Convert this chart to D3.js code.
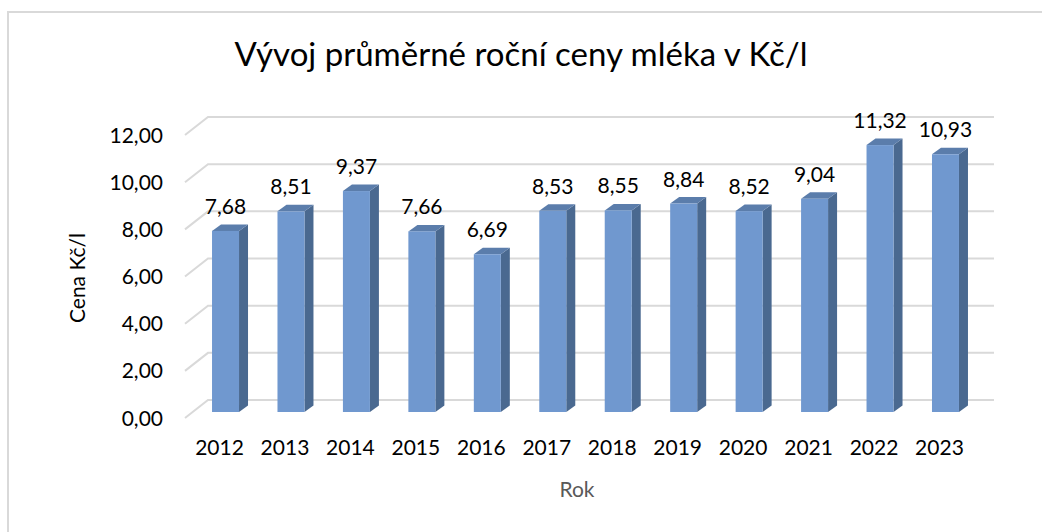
<!DOCTYPE html>
<html lang="cs">
<head>
<meta charset="UTF-8">
<title>Vývoj průměrné roční ceny mléka</title>
<script src="https://d3js.org/d3.v7.min.js"></script>
<style>
  html, body { margin: 0; padding: 0; background: #fff; }
  svg { display: block; font-family: Lato, "Open Sans", sans-serif; }
</style>
</head>
<body>
<svg id="chart" width="1042" height="532"></svg>
<script>
const years = ["2012", "2013", "2014", "2015", "2016", "2017", "2018", "2019", "2020", "2021", "2022", "2023"];
const prices = [7.68, 8.51, 9.37, 7.66, 6.69, 8.53, 8.55, 8.84, 8.52, 9.04, 11.32, 10.93];
const yTicks = [0, 2, 4, 6, 8, 10, 12];

const titleText = "Vývoj průměrné roční ceny mléka v Kč/l";
const yTitle = "Cena Kč/l";
const xTitle = "Rok";

const svg = d3.select("#chart");
const fmt = v => d3.format(".2f")(v).replace(".", ",");

// 3D offsets
const depth = { dx: 9, dy: -6.5 };       // bar depth
const wall = { dx: 23, dy: -18 };        // side wall / floor depth

// outer frame (only top + left visible)
svg.append("path")
  .attr("d", "M8,532 L8,12 L1042,12")
  .attr("fill", "none")
  .attr("stroke", "#d9d9d9")
  .attr("stroke-width", 2);

const x = d3.scaleBand()
  .domain(years)
  .range([192.8, 978.2])
  .paddingInner(0.5875)
  .paddingOuter(0.29375);

// front plane of bars
const y = d3.scaleLinear().domain([0, 12]).range([412, 412 - 12 * 23.58]);
// back wall
const yBack = v => y(v) - 12;
const wallLeft = 185, wallRight = 994;

// gridlines on back wall with diagonal on left side wall
svg.append("g")
  .selectAll("path")
  .data(yTicks)
  .join("path")
  .attr("d", d => `M${wallLeft},${yBack(d) - wall.dy} L${wallLeft + wall.dx},${yBack(d)} L${wallRight},${yBack(d)}`)
  .attr("fill", "none")
  .attr("stroke", "#d9d9d9")
  .attr("stroke-width", 2);

// y tick labels
svg.append("g")
  .selectAll("text")
  .data(yTicks)
  .join("text")
  .attr("x", 163)
  .attr("y", d => yBack(d) - wall.dy)
  .attr("dy", "0.36em")
  .attr("text-anchor", "end")
  .attr("font-size", 21)
  .attr("fill", "#000")
  .text(fmt);

// bars
const bars = svg.append("g")
  .selectAll("g")
  .data(years.map((yr, i) => ({ yr, v: prices[i] })))
  .join("g");

const bw = x.bandwidth();

bars.append("path") // side face
  .attr("d", d => {
    const x1 = x(d.yr) + bw, t = y(d.v), b = y(0);
    return `M${x1},${b} L${x1},${t} L${x1 + depth.dx},${t + depth.dy} L${x1 + depth.dx},${b + depth.dy} Z`;
  })
  .attr("fill", "#4a6990");

bars.append("path") // top face
  .attr("d", d => {
    const x0 = x(d.yr), t = y(d.v);
    return `M${x0},${t} L${x0 + bw},${t} L${x0 + bw + depth.dx},${t + depth.dy} L${x0 + depth.dx},${t + depth.dy} Z`;
  })
  .attr("fill", "#5b7dab");

bars.append("rect") // front face
  .attr("x", d => x(d.yr))
  .attr("y", d => y(d.v))
  .attr("width", bw)
  .attr("height", d => y(0) - y(d.v))
  .attr("fill", "#7098cf");

// data labels
bars.append("text")
  .attr("x", d => x(d.yr) + bw / 2)
  .attr("y", d => y(d.v) - 17)
  .attr("text-anchor", "middle")
  .attr("font-size", 21)
  .attr("fill", "#000")
  .text(d => fmt(d.v));

// category labels
svg.append("g")
  .selectAll("text")
  .data(years)
  .join("text")
  .attr("x", d => x(d) + bw / 2 - 6)
  .attr("y", 455)
  .attr("text-anchor", "middle")
  .attr("font-size", 21)
  .attr("fill", "#000")
  .text(d => d);

// titles
svg.append("text")
  .attr("x", 521)
  .attr("y", 66)
  .attr("text-anchor", "middle")
  .attr("font-size", 33)
  .attr("fill", "#000")
  .text(titleText);

svg.append("text")
  .attr("x", 577)
  .attr("y", 497)
  .attr("text-anchor", "middle")
  .attr("font-size", 21)
  .attr("fill", "#595959")
  .text(xTitle);

svg.append("text")
  .attr("transform", "translate(85,278) rotate(-90)")
  .attr("text-anchor", "middle")
  .attr("font-size", 21)
  .attr("fill", "#000")
  .text(yTitle);
</script>
</body>
</html>
